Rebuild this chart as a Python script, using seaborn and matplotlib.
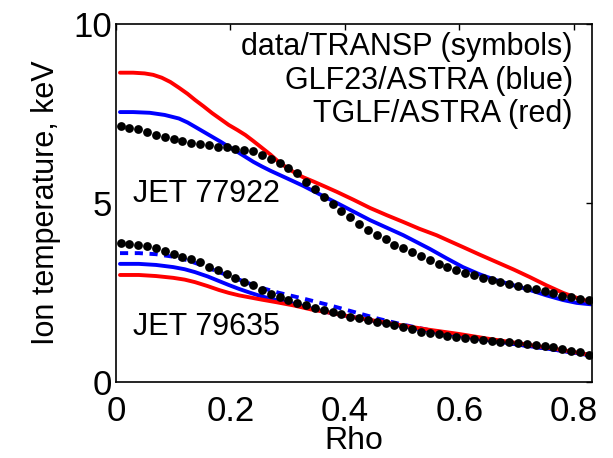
import numpy as np
import pandas as pd
import seaborn as sns
from matplotlib import pyplot as plt

# data/TRANSP symbols (both shots share the same rho grid)
rho_dots = np.linspace(0.008, 0.826, 54)
ti_77922_data = [7.16, 7.10, 7.06, 6.99, 6.90, 6.83, 6.78, 6.73, 6.69, 6.65,
                 6.61, 6.57, 6.56, 6.52, 6.48, 6.44, 6.34, 6.24, 6.13, 5.99,
                 5.83, 5.60, 5.38, 5.16, 4.96, 4.79, 4.60, 4.41, 4.26, 4.11,
                 3.99, 3.83, 3.73, 3.62, 3.51, 3.40, 3.30, 3.22, 3.13, 3.05,
                 2.99, 2.91, 2.85, 2.80, 2.74, 2.68, 2.63, 2.59, 2.55, 2.48,
                 2.41, 2.38, 2.33, 2.29]
ti_79635_data = [3.87, 3.85, 3.83, 3.81, 3.73, 3.67, 3.58, 3.50, 3.43, 3.34,
                 3.22, 3.13, 3.01, 2.90, 2.80, 2.71, 2.57, 2.46, 2.38, 2.29,
                 2.22, 2.15, 2.08, 2.01, 1.95, 1.89, 1.82, 1.78, 1.73, 1.68,
                 1.64, 1.59, 1.54, 1.48, 1.41, 1.36, 1.33, 1.29, 1.27, 1.24,
                 1.21, 1.17, 1.15, 1.13, 1.11, 1.08, 1.06, 1.03, 1.01, 0.97,
                 0.92, 0.87, 0.83, 0.75]

# TGLF/ASTRA, JET 77922 (red)
rho_tglf_77922 = [0.007, 0.03, 0.05, 0.065, 0.08, 0.095, 0.11, 0.125, 0.138, 0.153,
                  0.168, 0.183, 0.197, 0.212, 0.226, 0.24, 0.255, 0.27, 0.284, 0.3,
                  0.315, 0.327, 0.345, 0.365, 0.386, 0.415, 0.444, 0.473, 0.502, 0.53,
                  0.56, 0.585, 0.606, 0.635, 0.665, 0.695, 0.723, 0.752, 0.781, 0.805, 0.83]
ti_tglf_77922 = [8.64, 8.64, 8.62, 8.58, 8.50, 8.38, 8.22, 8.05, 7.88, 7.70,
                 7.51, 7.34, 7.18, 7.04, 6.90, 6.73, 6.54, 6.35, 6.15, 5.97,
                 5.82, 5.72, 5.60, 5.46, 5.31, 5.09, 4.86, 4.66, 4.47, 4.28,
                 4.10, 3.92, 3.77, 3.56, 3.35, 3.14, 2.93, 2.70, 2.49, 2.35, 2.23]

# GLF23/ASTRA, JET 77922 (blue)
rho_glf_77922 = [0.007, 0.03, 0.059, 0.085, 0.11, 0.125, 0.138, 0.153, 0.168, 0.183,
                 0.197, 0.212, 0.226, 0.24, 0.255, 0.27, 0.3, 0.327, 0.355, 0.386,
                 0.415, 0.444, 0.473, 0.502, 0.525, 0.548, 0.577, 0.606, 0.635, 0.665,
                 0.695, 0.723, 0.752, 0.781, 0.805, 0.83]
ti_glf_77922 = [7.54, 7.54, 7.52, 7.46, 7.36, 7.25, 7.13, 6.99, 6.85, 6.71,
                6.57, 6.43, 6.29, 6.15, 6.02, 5.90, 5.68, 5.48, 5.25, 5.00,
                4.76, 4.52, 4.31, 4.10, 3.91, 3.72, 3.46, 3.21, 3.01, 2.84,
                2.70, 2.57, 2.42, 2.29, 2.21, 2.17]

# JET 79635 model curves (solid)
rho_79635 = [0.007, 0.04, 0.07, 0.1, 0.12, 0.138, 0.16, 0.18, 0.197, 0.215,
             0.235, 0.255, 0.28, 0.31, 0.34, 0.372, 0.415, 0.46, 0.5, 0.547,
             0.6, 0.65, 0.7, 0.75, 0.8, 0.83]
ti_glf_79635 = [3.30, 3.30, 3.27, 3.21, 3.15, 3.07, 2.95, 2.82, 2.71, 2.60,
                2.49, 2.39, 2.29, 2.19, 2.06, 1.94, 1.81, 1.68, 1.56, 1.43,
                1.30, 1.17, 1.05, 0.94, 0.82, 0.74]
ti_tglf_79635 = [2.99, 2.99, 2.96, 2.91, 2.86, 2.79, 2.68, 2.57, 2.49, 2.42,
                 2.36, 2.30, 2.23, 2.14, 2.03, 1.94, 1.81, 1.69, 1.58, 1.46,
                 1.34, 1.21, 1.09, 0.97, 0.84, 0.75]

# GLF23 dashed curve, JET 79635
rho_glf_dash = [0.007, 0.04, 0.07, 0.1, 0.125, 0.15, 0.175, 0.2, 0.225, 0.25,
                0.285, 0.33, 0.372, 0.415, 0.46, 0.505, 0.547, 0.6, 0.65, 0.7,
                0.75, 0.8, 0.83]
ti_glf_dash = [3.60, 3.60, 3.57, 3.50, 3.40, 3.26, 3.10, 2.95, 2.80, 2.65,
               2.49, 2.32, 2.15, 1.96, 1.76, 1.59, 1.45, 1.30, 1.17, 1.05,
               0.94, 0.82, 0.75]

sns.set_style("white", {"text.color": "black", "axes.labelcolor": "black",
                        "xtick.color": "black", "ytick.color": "black",
                        "axes.edgecolor": "black"})
plt.rcParams['font.family'] = ['Liberation Sans', 'DejaVu Sans']

fig = plt.figure(figsize=(6.13, 4.58), dpi=100)
ax = fig.add_axes([0.1892, 0.1659, 0.7765, 0.7817])

lw = 2.8
sns.lineplot(x=rho_glf_dash, y=ti_glf_dash, color="blue", linewidth=lw, linestyle=(0, (2.1, 1.7)),
             ax=ax, sort=False)
sns.lineplot(x=rho_glf_77922, y=ti_glf_77922, color="blue", linewidth=lw, ax=ax, sort=False)
sns.lineplot(x=rho_tglf_77922, y=ti_tglf_77922, color="red", linewidth=lw, ax=ax, sort=False)
sns.lineplot(x=rho_79635, y=ti_glf_79635, color="blue", linewidth=lw, ax=ax, sort=False)
sns.lineplot(x=rho_79635, y=ti_tglf_79635, color="red", linewidth=lw, ax=ax, sort=False)

sns.scatterplot(x=rho_dots, y=ti_77922_data, color="black", s=40, linewidth=0, ax=ax, zorder=3)
sns.scatterplot(x=rho_dots, y=ti_79635_data, color="black", s=40, linewidth=0, ax=ax, zorder=3)

ax.set_xlim(0, 0.8315)
ax.set_ylim(0, 10)
ax.set_xticks([0, 0.2, 0.4, 0.6, 0.8])
ax.set_xticklabels(["0", "0.2", "0.4", "0.6", "0.8"])
ax.set_yticks([0, 5, 10])
ax.tick_params(direction="in", length=4, width=1, top=True, right=True, labelsize=25)
ax.tick_params(axis="x", pad=9)
ax.tick_params(axis="y", pad=3)
for sp in ax.spines.values():
    sp.set_linewidth(1.2)

ax.set_xlabel("Rho", fontsize=23, labelpad=-1)
ax.set_ylabel("Ion temperature, keV", fontsize=22, labelpad=9)

fs = 22
ax.text(0.96, 0.913, "data/TRANSP (symbols)", transform=ax.transAxes, ha="right", va="baseline", fontsize=fs)
ax.text(0.96, 0.818, "GLF23/ASTRA (blue)", transform=ax.transAxes, ha="right", va="baseline", fontsize=fs)
ax.text(0.96, 0.726, "TGLF/ASTRA (red)", transform=ax.transAxes, ha="right", va="baseline", fontsize=fs)
ax.text(0.036, 0.503, "JET 77922", transform=ax.transAxes, ha="left", va="baseline", fontsize=fs)
ax.text(0.036, 0.131, "JET 79635", transform=ax.transAxes, ha="left", va="baseline", fontsize=fs)

fig.savefig("out.png", dpi=100)
